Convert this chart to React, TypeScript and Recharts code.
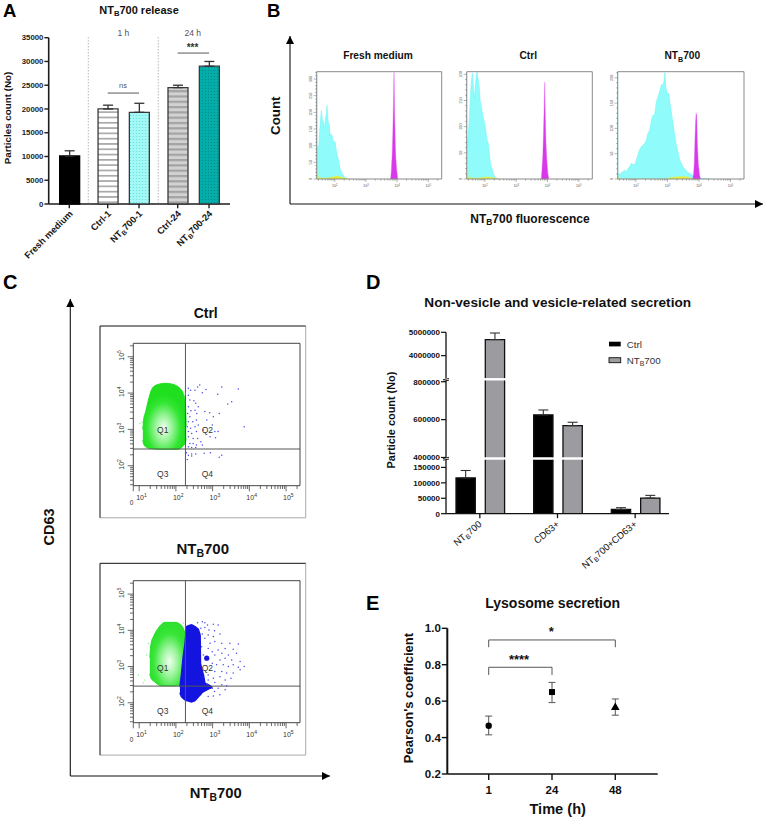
import {
  Area, Bar, BarChart, Cell, ComposedChart, ErrorBar, Line, LineChart,
  ReferenceLine, Scatter, Symbols, XAxis, YAxis,
} from "recharts";

const PAGE_W = 764;
const PAGE_H = 819;
const FONT = "'Liberation Sans', Arial, sans-serif";

// Panel A
const releaseCategories = ["Fresh medium", "Ctrl-1", "NTB700-1", "Ctrl-24", "NTB700-24"];
const releaseValues = [10100, 20000, 19300, 24500, 29000];
const releaseErrors = [1100, 800, 1900, 500, 1000];
const releaseFills = ["#000000", "url(#stripeLight)", "url(#dotCyan)", "url(#stripeGrey)", "url(#dotTeal)"];
const releaseTicks = [0, 5000, 10000, 15000, 20000, 25000, 30000, 35000];

// Panel B, [log10 fluorescence, count]
const freshCyan = [[1.42, 330], [1.43, 95], [1.49, 100], [1.52, 150], [1.55, 185], [1.57, 205], [1.6, 180], [1.64, 170], [1.67, 150], [1.7, 180], [1.73, 195], [1.75, 220], [1.79, 170], [1.82, 165], [1.85, 130], [1.88, 135], [1.91, 130], [1.95, 115], [1.98, 110], [2.01, 112], [2.04, 90], [2.07, 75], [2.11, 60], [2.14, 45], [2.17, 30], [2.2, 25], [2.24, 15], [2.27, 12], [2.3, 8], [2.34, 4], [2.39, 2], [2.43, 0]];
const freshMagenta = [[3.79, 0], [3.81, 20], [3.84, 70], [3.86, 130], [3.88, 220], [3.9, 320], [3.92, 200], [3.94, 110], [3.96, 60], [3.99, 25], [4.02, 0]];
const freshYellow = [[1.42, 75], [1.44, 60], [1.46, 5], [1.6, 2], [1.8, 3], [1.95, 6], [2.05, 9], [2.15, 7], [2.3, 3], [2.45, 0]];
const ctrlCyan = [[1.42, 210], [1.43, 60], [1.47, 84], [1.51, 122], [1.54, 160], [1.57, 186], [1.6, 202], [1.64, 173], [1.67, 154], [1.7, 179], [1.73, 198], [1.75, 204], [1.79, 189], [1.82, 176], [1.85, 148], [1.88, 141], [1.91, 129], [1.95, 116], [1.98, 110], [2.01, 100], [2.04, 87], [2.07, 75], [2.11, 68], [2.14, 49], [2.17, 33], [2.2, 24], [2.24, 17], [2.27, 11], [2.3, 6], [2.34, 3], [2.39, 1], [2.43, 0]];
const ctrlMagenta = [[3.8, 0], [3.82, 15], [3.85, 45], [3.87, 85], [3.89, 130], [3.91, 185], [3.93, 120], [3.95, 70], [3.98, 35], [4.01, 12], [4.04, 0]];
const ctrlYellow = [[1.42, 52], [1.44, 40], [1.46, 3], [1.7, 1], [1.95, 3], [2.1, 4], [2.3, 2], [2.45, 0]];
const ntCyan = [[1.42, 215], [1.43, 6], [1.44, 8], [1.47, 11], [1.5, 9], [1.54, 13], [1.59, 14], [1.64, 18], [1.7, 14], [1.75, 21], [1.8, 24], [1.85, 31], [1.9, 29], [1.96, 28], [2.01, 37], [2.06, 47], [2.11, 57], [2.17, 64], [2.22, 67], [2.28, 70], [2.33, 77], [2.38, 90], [2.44, 97], [2.49, 116], [2.54, 126], [2.59, 126], [2.65, 153], [2.7, 162], [2.75, 172], [2.81, 186], [2.86, 186], [2.89, 192], [2.92, 210], [2.95, 179], [3.0, 166], [3.04, 170], [3.08, 149], [3.12, 133], [3.18, 107], [3.23, 87], [3.28, 67], [3.34, 51], [3.39, 37], [3.44, 31], [3.49, 24], [3.55, 20], [3.6, 16], [3.65, 13], [3.71, 11], [3.76, 9], [3.81, 7], [3.86, 5], [3.92, 3], [3.97, 2], [4.08, 1], [4.18, 1], [4.39, 0]];
const ntMagenta = [[3.8, 0], [3.83, 10], [3.85, 30], [3.87, 70], [3.89, 110], [3.91, 130], [3.93, 125], [3.95, 70], [3.98, 30], [4.02, 8], [4.05, 0]];
const ntYellow = [[1.42, 5], [1.44, 3], [1.46, 0], [3.0, 0], [3.1, 3], [3.3, 4], [3.5, 5], [3.7, 3], [3.81, 0]];
const histogramDomain = [1.42, 5.43];

// Panel C, blobs are [log x, log y low, log y high]
const ctrlGreen = [[1.1, 2.7, 3.0], [1.12, 2.6, 3.25], [1.18, 2.52, 3.5], [1.27, 2.48, 3.88], [1.34, 2.47, 4.1], [1.43, 2.46, 4.2], [1.56, 2.45, 4.25], [1.7, 2.45, 4.27], [1.88, 2.45, 4.25], [2.02, 2.45, 4.2], [2.11, 2.47, 4.13], [2.2, 2.55, 3.99], [2.25, 2.62, 3.8], [2.28, 2.75, 3.1]];
const ctrlGreenStray = [[1.17, 3.49], [1.02, 3.16], [1.08, 3.2], [2.25, 3.99]];
const ctrlBlue = [[2.34, 4.13], [2.4, 4.08], [2.52, 4.08], [2.59, 4.17], [2.65, 4.22], [2.72, 4.01], [2.82, 4.1], [3.25, 4.17], [3.7, 4.11], [3.14, 3.97], [3.52, 3.76], [3.41, 3.7], [3.86, 3.07], [2.34, 3.94], [2.38, 3.81], [2.49, 3.79], [2.54, 3.72], [2.61, 3.62], [2.34, 3.62], [2.41, 3.51], [2.52, 3.53], [2.57, 3.44], [2.79, 3.49], [2.92, 3.46], [3.02, 3.35], [3.18, 3.44], [2.32, 3.44], [2.38, 3.35], [2.46, 3.21], [2.56, 3.26], [2.84, 3.26], [2.99, 3.12], [2.34, 3.21], [2.31, 3.07], [2.4, 3.03], [2.52, 3.07], [2.61, 3.12], [2.34, 2.94], [2.43, 2.89], [2.56, 2.94], [2.75, 2.98], [3.06, 2.94], [3.15, 2.94], [2.34, 2.8], [2.47, 2.75], [2.59, 2.75], [2.68, 2.66], [2.38, 2.61], [2.47, 2.61], [2.56, 2.57], [2.72, 2.57], [2.93, 2.8], [3.08, 2.77], [2.34, 2.52], [2.43, 2.5], [2.54, 2.5], [2.29, 2.36], [2.34, 2.29], [2.43, 2.32], [2.54, 2.32], [2.77, 2.34], [2.94, 2.36], [3.25, 2.29], [3.18, 2.23], [2.31, 2.17], [2.43, 2.27]];
const ntGreen = [[1.29, 2.8, 3.25], [1.32, 2.68, 3.6], [1.41, 2.59, 3.87], [1.52, 2.5, 4.06], [1.61, 2.47, 4.17], [1.7, 2.47, 4.22], [1.97, 2.47, 4.22], [2.11, 2.5, 4.17], [2.2, 2.63, 4.06], [2.27, 2.91, 3.83]];
const ntGreenStray = [[0.98, 2.77], [1.15, 2.63], [1.25, 3.64], [1.34, 3.73], [1.2, 3.32], [1.11, 2.55], [2.2, 4.2]];
const ntBlueBlob = [[2.11, 2.28, 2.43], [2.15, 2.17, 2.77], [2.2, 2.12, 3.28], [2.25, 2.08, 3.64], [2.29, 2.06, 4.1], [2.34, 2.05, 4.13], [2.43, 2.02, 4.15], [2.52, 2.06, 4.1], [2.61, 2.16, 4.03], [2.66, 2.22, 3.87], [2.67, 2.22, 3.09], [2.7, 2.27, 2.95], [2.75, 2.31, 2.77], [2.79, 2.33, 2.54], [2.88, 2.38, 2.5], [2.99, 2.43, 2.43]];
const ntBlueClump = [[2.84, 3.23]];
const ntBlue = [[2.59, 4.21], [2.72, 4.24], [2.79, 4.21], [2.86, 4.15], [3.02, 4.17], [3.15, 4.15], [2.68, 4.06], [2.79, 4.08], [2.9, 4.01], [3.05, 3.99], [2.72, 3.9], [2.88, 3.87], [3.02, 3.83], [3.2, 3.9], [2.79, 3.78], [2.93, 3.64], [3.06, 3.69], [3.25, 3.64], [3.47, 3.64], [3.7, 3.62], [2.7, 3.55], [2.88, 3.5], [2.99, 3.41], [3.15, 3.46], [3.34, 3.5], [3.56, 3.48], [2.75, 3.32], [3.06, 3.32], [3.25, 3.37], [3.43, 3.32], [3.65, 3.37], [3.2, 3.18], [3.34, 3.23], [3.52, 3.18], [3.75, 3.14], [2.99, 3.09], [3.11, 3.05], [3.29, 3.05], [3.43, 3.0], [3.56, 3.05], [3.7, 2.98], [3.86, 3.0], [3.06, 2.86], [3.25, 2.86], [3.38, 2.82], [3.56, 2.82], [3.75, 2.91], [2.88, 2.77], [3.02, 2.68], [3.2, 2.72], [3.34, 2.63], [3.5, 2.68], [2.88, 2.63], [3.06, 2.56], [3.25, 2.5], [3.38, 2.47], [2.84, 2.52], [2.99, 2.4], [3.15, 2.4], [3.34, 2.36], [3.05, 2.31], [3.2, 2.22], [2.88, 2.17], [3.02, 2.19]];
const gateX = 2.26;
const gateY = 2.46;
const flowXDomain = [0.84, 5.38];
const flowYDomain = [1.45, 5.37];

// Panel D
const secretionCategories = ["NTB700", "CD63+", "NTB700+CD63+"];
const ctrlCounts = [116000, 625000, 14000];
const ctrlCountErrors = [24000, 26000, 5500];
const ntCounts = [4690000, 568000, 50700];
const ntCountErrors = [280000, 18000, 8700];
const lowTicks = [0, 50000, 100000, 150000];
const midTicks = [400000, 600000, 800000];
const highTicks = [4000000, 5000000];

// Panel E
const timeCategories = ["1", "24", "48"];
const pearsonMeans = [0.465, 0.65, 0.565];
const pearsonLow = [0.415, 0.592, 0.523];
const pearsonHigh = [0.518, 0.703, 0.612];
const timeMarkers = ["circle", "square", "triangle"];
const pearsonTicks = [0.2, 0.4, 0.6, 0.8, 1.0];

// every chart covers the page and its axes take 1px, so the plot box is given in page pixels
const plot = (left: number, top: number, right: number, bottom: number) => ({
  left: left - 1, top, right: PAGE_W - right, bottom: PAGE_H - bottom - 1,
});
const silentY = { width: 1, axisLine: false, tick: false, tickLine: false };
const silentX = { height: 1, axisLine: false, tick: false, tickLine: false };

const Sheet = ({ children }: any) => (
  <div style={{ position: "absolute", left: 0, top: 0, width: PAGE_W, height: PAGE_H }}>{children}</div>
);

// writes the B of NTB as a subscript
function Sub({ text, size }: { text: string; size: number }) {
  const at = text.indexOf("NTB");
  if (at < 0) return <>{text}</>;
  const shift = size * 0.22;
  return (
    <>
      <tspan>{text.slice(0, at + 2)}</tspan>
      <tspan dy={shift} fontSize={size * 0.7}>B</tspan>
      <tspan dy={-shift}>{text.slice(at + 3)}</tspan>
    </>
  );
}

const Txt = ({ x, y, size, bold, color = "#111", anchor = "middle", rotate, text }: any) => (
  <text
    x={x} y={y} fontSize={size} fontWeight={bold ? 700 : 400} fill={color} textAnchor={anchor}
    fontFamily={FONT} transform={rotate ? `rotate(${rotate} ${x} ${y})` : undefined}
  >
    <Sub text={text} size={size} />
  </text>
);

// the axis overwrites a prop called angle on its tick element, hence tilt
const AngledTick = ({ x, y, payload, labelSize, bold, shiftX, shiftY, tilt }: any) => (
  <text
    x={x + shiftX} y={y + shiftY} fontSize={labelSize} fontWeight={bold ? 700 : 400} fill="#151515" textAnchor="end"
    fontFamily={FONT} transform={`rotate(${tilt} ${x + shiftX} ${y + shiftY})`}
  >
    <Sub text={payload.value} size={labelSize} />
  </text>
);

// Panel A: three groups, same y scale, so the separators get their extra room
function ReleaseBase() {
  return (
    <Sheet>
      <BarChart width={PAGE_W} height={PAGE_H} margin={plot(48.7, 37.7, 230, 204)} data={releaseCategories.map((name) => ({ name, value: 0 }))}>
        <XAxis dataKey="name" height={1} tick={false} tickLine={false} axisLine={{ stroke: "#1c1c1c", strokeWidth: 1.6 }} />
        <YAxis
          width={1} domain={[0, 35000]} ticks={releaseTicks} interval={0} tickSize={4.3} tickMargin={1}
          tick={{ fontSize: 7.8, fontWeight: 700, fill: "#1c1c1c" }}
          tickLine={{ stroke: "#1c1c1c", strokeWidth: 1.4 }} axisLine={{ stroke: "#1c1c1c", strokeWidth: 1.6 }}
        />
        <Bar dataKey="value" fill="none" isAnimationActive={false} />
      </BarChart>
    </Sheet>
  );
}

function ReleaseGroup({ from, to, left, right, significance }: any) {
  const data = releaseCategories.slice(from, to).map((name, i) => ({
    name,
    value: releaseValues[from + i],
    error: [0, releaseErrors[from + i]],
  }));
  return (
    <Sheet>
      <BarChart width={PAGE_W} height={PAGE_H} margin={plot(left, 37.7, right, 204)} data={data}>
        <XAxis
          dataKey="name" height={1} interval={0} tickSize={4.3} axisLine={false}
          tickLine={{ stroke: "#1c1c1c", strokeWidth: 1.4 }}
          tick={<AngledTick labelSize={9.3} bold shiftX={4} shiftY={4} tilt={-45} />}
        />
        <YAxis {...silentY} domain={[0, 35000]} />
        <Bar dataKey="value" barSize={20} stroke="#333" strokeWidth={1.3} isAnimationActive={false}>
          {data.map((_, i) => <Cell key={i} fill={releaseFills[from + i]} stroke={from === 0 ? "#000" : "#3a3a3a"} />)}
          <ErrorBar dataKey="error" width={5} stroke="#333" strokeWidth={1.3} direction="y" />
        </Bar>
        {significance && (
          <ReferenceLine
            segment={[{ x: data[0].name, y: significance }, { x: data[1].name, y: significance }]}
            stroke="#444" strokeWidth={0.9}
          />
        )}
      </BarChart>
    </Sheet>
  );
}

// Panel B
const HistTickX = ({ x, y, payload }: any) => {
  const major = Number.isInteger(payload.value);
  return (
    <g>
      <line x1={x} x2={x} y1={y} y2={y + (major ? 3 : 1.6)} stroke="#666" strokeWidth={0.5} />
      {major && (
        <text x={x} y={y + 8} fontSize={3.6} fill="#555" textAnchor="middle" fontFamily={FONT}>
          10<tspan dy={-1} fontSize={2.6}>{payload.value}</tspan>
        </text>
      )}
    </g>
  );
};

const HistTickY = ({ x, y, payload }: any) => {
  const major = payload.value % 50 === 0;
  return (
    <g>
      <line x1={x} x2={x - (major ? 3 : 1.6)} y1={y} y2={y} stroke="#666" strokeWidth={0.5} />
      {major && (
        <text x={x - 4.5} y={y} fontSize={3.8} fill="#555" textAnchor="middle" fontFamily={FONT} transform={`rotate(-90 ${x - 4.5} ${y})`}>
          {payload.value}
        </text>
      )}
    </g>
  );
};

const decadeMinors = (first: number, last: number) => {
  const out: number[] = [];
  for (let d = first; d <= last; d++) for (const m of [1, 2, 3, 4, 5, 6, 7, 8, 9]) out.push(Number((d + Math.log10(m)).toFixed(3)));
  return out;
};

const toPoints = (pairs: number[][]) => pairs.map(([x, y]) => ({ x, y }));
const toRange = (rows: number[][]) => rows.map(([x, low, high]) => ({ x, range: [low, high] }));

function Histogram({ left, right, maxCount, cyan, magenta, yellow }: any) {
  const yTicks: number[] = [];
  for (let t = 0; t <= maxCount; t += 10) yTicks.push(t);
  const xTicks = decadeMinors(1, 5).filter((t) => t >= histogramDomain[0] && t <= histogramDomain[1]);
  return (
    <Sheet>
      <ComposedChart width={PAGE_W} height={PAGE_H} margin={plot(left, 71.7, right, 179)}>
        <XAxis
          type="number" dataKey="x" height={1} domain={histogramDomain} allowDataOverflow ticks={xTicks} interval={0}
          tickSize={0} tickMargin={0} tickLine={false} tick={<HistTickX />} axisLine={{ stroke: "#8a8a8a" }}
        />
        <YAxis
          width={1} dataKey="y" domain={[0, maxCount]} allowDataOverflow ticks={yTicks} interval={0}
          tickSize={0} tickMargin={0} tickLine={false} tick={<HistTickY />} axisLine={{ stroke: "#8a8a8a" }}
        />
        <Area data={toPoints(cyan)} dataKey="y" type="linear" fill="#8ffbfb" fillOpacity={1} stroke="#6ef7f7" strokeWidth={0.6} isAnimationActive={false} />
        <Area data={toPoints(yellow)} dataKey="y" type="linear" fill="#e6ee3a" fillOpacity={1} stroke="#e6ee3a" strokeWidth={0.5} isAnimationActive={false} />
        <Area data={toPoints(magenta)} dataKey="y" type="linear" fill="#d838ea" fillOpacity={1} stroke="#e060f0" strokeWidth={0.4} isAnimationActive={false} />
        <ReferenceLine y={maxCount} stroke="#8a8a8a" />
        <ReferenceLine x={histogramDomain[1]} stroke="#8a8a8a" />
      </ComposedChart>
    </Sheet>
  );
}

// Panel C
const FlowTickX = ({ x, y, payload }: any) => {
  const v = payload.value;
  const major = Number.isInteger(v);
  const zero = v === flowXDomain[0];
  return (
    <g>
      <line x1={x} x2={x} y1={y} y2={y + (major || zero ? 5.6 : 3.3)} stroke="#444" strokeWidth={0.8} />
      {major && (
        <text x={x - 3} y={y + 14} fontSize={7} fill="#333" fontFamily={FONT}>
          10<tspan dy={-3} fontSize={5}>{v}</tspan>
        </text>
      )}
      {zero && <text x={x - 3.5} y={y + 19} fontSize={6.5} fill="#333" fontFamily={FONT}>0</text>}
    </g>
  );
};

const FlowTickY = ({ x, y, payload }: any) => {
  const v = payload.value;
  const major = Number.isInteger(v);
  return (
    <g>
      <line x1={x} x2={x - (major ? 5.6 : 3.3)} y1={y} y2={y} stroke="#444" strokeWidth={0.8} />
      {major && (
        <text x={x - 9} y={y + 4} fontSize={7} fill="#333" fontFamily={FONT} transform={`rotate(-90 ${x - 9} ${y + 4})`}>
          10<tspan dy={-3} fontSize={5}>{v}</tspan>
        </text>
      )}
    </g>
  );
};

const BlueDot = ({ cx, cy }: any) => <circle cx={cx} cy={cy} r={0.75} fill="#4a4af0" />;
const GreenDot = ({ cx, cy }: any) => <circle cx={cx} cy={cy} r={0.55} fill="#58e858" />;
const ClumpDot = ({ cx, cy }: any) => <circle cx={cx} cy={cy} r={2.6} fill="#1414e0" />;

function FlowPlot({ top, bottom, gradient, green, stray, blob, clump, dots }: any) {
  const xTicks = [flowXDomain[0], ...decadeMinors(1, 5).filter((t) => t <= flowXDomain[1])];
  const yTicks = decadeMinors(1, 5).filter((t) => t >= flowYDomain[0] && t <= flowYDomain[1]);
  return (
    <Sheet>
      <ComposedChart width={PAGE_W} height={PAGE_H} margin={plot(133.3, top, 300, bottom)}>
        <XAxis
          type="number" dataKey="x" height={1} domain={flowXDomain} ticks={xTicks} interval={0}
          tickSize={0} tickMargin={0} tickLine={false} tick={<FlowTickX />} axisLine={{ stroke: "#444" }}
        />
        <YAxis
          width={1} dataKey="y" domain={flowYDomain} ticks={yTicks} interval={0}
          tickSize={0} tickMargin={0} tickLine={false} tick={<FlowTickY />} axisLine={{ stroke: "#444" }}
        />
        <Area data={toRange(green)} dataKey="range" type="monotone" fill={gradient} fillOpacity={1} stroke="#1fdf1f" strokeWidth={1} isAnimationActive={false} />
        {blob && <Area data={toRange(blob)} dataKey="range" type="linear" fill="#1414e0" fillOpacity={1} stroke="#1414e0" strokeWidth={1.5} isAnimationActive={false} />}
        <Scatter data={toPoints(stray)} shape={<GreenDot />} isAnimationActive={false} />
        <Scatter data={toPoints(dots)} shape={<BlueDot />} isAnimationActive={false} />
        {clump && <Scatter data={toPoints(clump)} shape={<ClumpDot />} isAnimationActive={false} />}
        <ReferenceLine x={gateX} stroke="#555" strokeWidth={1} />
        <ReferenceLine y={gateY} stroke="#555" strokeWidth={1} />
        <ReferenceLine x={flowXDomain[1]} stroke="#444" />
        <ReferenceLine y={flowYDomain[1]} stroke="#444" />
      </ComposedChart>
    </Sheet>
  );
}

// Panel D: broken axis, one chart per segment with the bars clipped to it
const OpenBar = ({ x, y, width, height, fill }: any) => {
  if (height == null || !Number.isFinite(height)) return null;
  return (
    <g>
      <rect x={x} y={y} width={width} height={height} fill={fill} />
      <path d={`M${x} ${y + height}V${y}H${x + width}V${y + height}`} fill="none" stroke="#111" strokeWidth={1.3} />
    </g>
  );
};

function SecretionSegment({ top, bottom, domain, ticks, showCategories }: any) {
  const keep = (v: number) => v >= domain[0];
  const inside = (v: number) => v >= domain[0] && v <= domain[1];
  const data = secretionCategories.map((name, i) => ({
    name,
    ctrl: keep(ctrlCounts[i]) ? ctrlCounts[i] : null,
    ctrlError: inside(ctrlCounts[i]) ? [0, ctrlCountErrors[i]] : null,
    nt: keep(ntCounts[i]) ? ntCounts[i] : null,
    ntError: inside(ntCounts[i]) ? [0, ntCountErrors[i]] : null,
  }));
  const xAxisLook = showCategories
    ? {
        height: 1, tickSize: 4.5, axisLine: { stroke: "#111", strokeWidth: 1.3 },
        tickLine: { stroke: "#111", strokeWidth: 1.3 },
        tick: <AngledTick labelSize={9.5} shiftX={2.5} shiftY={5} tilt={-40} />,
      }
    : silentX;
  return (
    <Sheet>
      <BarChart width={PAGE_W} height={PAGE_H} margin={plot(446, top, 669, bottom)} data={data} barSize={19.3} barGap={10}>
        <XAxis dataKey="name" interval={0} padding={{ left: -5, right: -5 }} {...xAxisLook} />
        <YAxis
          width={1} domain={domain} allowDataOverflow ticks={ticks} interval={0} tickSize={5} tickMargin={1}
          tick={{ fontSize: 8, fontWeight: 700, fill: "#111" }}
          tickLine={{ stroke: "#111", strokeWidth: 1.2 }} axisLine={{ stroke: "#111", strokeWidth: 1.3 }}
        />
        <Bar dataKey="ctrl" fill="#000" shape={<OpenBar />} isAnimationActive={false}>
          <ErrorBar dataKey="ctrlError" width={5} stroke="#333" strokeWidth={1.1} direction="y" />
        </Bar>
        <Bar dataKey="nt" fill="#9b9ba0" shape={<OpenBar />} isAnimationActive={false}>
          <ErrorBar dataKey="ntError" width={5} stroke="#333" strokeWidth={1.1} direction="y" />
        </Bar>
      </BarChart>
    </Sheet>
  );
}

// Panel E
function PearsonChart() {
  const data = timeCategories.map((name, i) => ({
    name,
    mean: pearsonMeans[i],
    spread: [pearsonMeans[i] - pearsonLow[i], pearsonHigh[i] - pearsonMeans[i]],
  }));
  const dot = (p: any) => (
    <Symbols key={p.index} cx={p.cx} cy={p.cy} type={timeMarkers[p.index] as any} size={p.index === 1 ? 36 : 32} fill="#000" />
  );
  const bracketLine = { stroke: "#444", strokeWidth: 0.9 };
  return (
    <Sheet>
      <LineChart width={PAGE_W} height={PAGE_H} margin={plot(447.3, 628.3, 657.7, 774)} data={data}>
        <XAxis
          dataKey="name" height={1} interval={0} padding={{ left: 41.4, right: 42.4 }} tickSize={6} tickMargin={6}
          tick={{ fontSize: 11.5, fontWeight: 700, fill: "#111" }}
          tickLine={{ stroke: "#111", strokeWidth: 1.4 }} axisLine={{ stroke: "#111", strokeWidth: 1.6 }}
        />
        <YAxis
          width={1} domain={[0.2, 1]} ticks={pearsonTicks} interval={0} tickSize={5.5} tickMargin={1}
          tickFormatter={(v: number) => v.toFixed(1)}
          tick={{ fontSize: 11.5, fontWeight: 700, fill: "#111" }}
          tickLine={{ stroke: "#111", strokeWidth: 1.4 }} axisLine={{ stroke: "#111", strokeWidth: 2 }}
        />
        <Line dataKey="mean" stroke="none" dot={dot} activeDot={false} isAnimationActive={false}>
          <ErrorBar dataKey="spread" width={3.5} stroke="#555" strokeWidth={1} direction="y" />
        </Line>
        <ReferenceLine segment={[{ x: "1", y: 0.896 }, { x: "1", y: 0.936 }]} {...bracketLine} />
        <ReferenceLine segment={[{ x: "1", y: 0.936 }, { x: "48", y: 0.936 }]} {...bracketLine} />
        <ReferenceLine segment={[{ x: "48", y: 0.936 }, { x: "48", y: 0.896 }]} {...bracketLine} />
        <ReferenceLine segment={[{ x: "1", y: 0.744 }, { x: "1", y: 0.786 }]} {...bracketLine} />
        <ReferenceLine segment={[{ x: "1", y: 0.786 }, { x: "24", y: 0.786 }]} {...bracketLine} />
        <ReferenceLine segment={[{ x: "24", y: 0.786 }, { x: "24", y: 0.744 }]} {...bracketLine} />
      </LineChart>
    </Sheet>
  );
}

const Arrow = ({ x1, y1, x2, y2 }: any) => {
  const up = x1 === x2;
  const head = up
    ? `${x2},${y2} ${x2 - 4},${y2 + 8} ${x2 + 4},${y2 + 8}`
    : `${x2},${y2} ${x2 - 8},${y2 - 4} ${x2 - 8},${y2 + 4}`;
  return (
    <g>
      <line x1={x1} y1={y1} x2={x2} y2={y2} stroke="#111" strokeWidth={1.1} />
      <polygon points={head} fill="#000" />
    </g>
  );
};

function Annotations() {
  return (
    <Sheet>
      <svg width={PAGE_W} height={PAGE_H} style={{ display: "block" }}>
        {/* panel letters */}
        <Txt x={3} y={16.8} size={18.5} bold anchor="start" color="#000" text="A" />
        <Txt x={267} y={16.8} size={18.5} bold anchor="start" color="#000" text="B" />
        <Txt x={3} y={289} size={20} bold anchor="start" color="#000" text="C" />
        <Txt x={366} y={289} size={20} bold anchor="start" color="#000" text="D" />
        <Txt x={366} y={610} size={20} bold anchor="start" color="#000" text="E" />

        {/* A */}
        <Txt x={139} y={14} size={11} bold text="NTB700 release" />
        <Txt x={10.5} y={118} size={9.8} bold rotate={-90} text="Particles count (No)" />
        <Txt x={123.3} y={35.7} size={8.5} color="#555" text="1 h" />
        <Txt x={192.7} y={35.7} size={8.5} color="#555" text="24 h" />
        <Txt x={123} y={88} size={7.5} color="#555" text="ns" />
        <Txt x={192.5} y={51} size={10} bold color="#333" text="***" />
        <line x1={88.3} x2={88.3} y1={37} y2={204} stroke="#999" strokeWidth={0.7} strokeDasharray="1.5 1.5" />
        <line x1={158.3} x2={158.3} y1={37} y2={204} stroke="#999" strokeWidth={0.7} strokeDasharray="1.5 1.5" />

        {/* B */}
        <Arrow x1={290} y1={204} x2={290} y2={36} />
        <Arrow x1={290} y1={204} x2={763} y2={204} />
        <Txt x={280} y={115.7} size={13.3} bold rotate={-90} text="Count" />
        <Txt x={378} y={59.3} size={10.2} bold text="Fresh medium" />
        <Txt x={528.3} y={59.3} size={10.2} bold text="Ctrl" />
        <Txt x={682.3} y={59.3} size={10.2} bold text="NTB700" />
        <Txt x={530} y={222.7} size={12} bold text="NTB700 fluorescence" />

        {/* C */}
        <Arrow x1={70.3} y1={776} x2={70.3} y2={299} />
        <Arrow x1={70.3} y1={776} x2={330} y2={776} />
        <Txt x={54} y={527} size={14.5} bold rotate={-90} text="CD63" />
        <Txt x={205.7} y={317.7} size={14} bold text="Ctrl" />
        <Txt x={202.7} y={554} size={15} bold text="NTB700" />
        <Txt x={215.7} y={798} size={14.8} bold text="NTB700" />
        {[326, 563.3].map((t) => (
          <g key={t}>
            <path d={`M305.7 ${t}V${t + 191.8}H100`} fill="none" stroke="#aaa" strokeWidth={1} />
            <path d={`M100 ${t + 191.8}V${t}H305.7`} fill="none" stroke="#111" strokeWidth={1} />
          </g>
        ))}
        {[
          ["Q1", 162.7, 433.3], ["Q2", 207.3, 433.3], ["Q3", 162.7, 477], ["Q4", 207.3, 477],
          ["Q1", 162.7, 670.7], ["Q2", 207.3, 670.7], ["Q3", 162.7, 714], ["Q4", 207.3, 714],
        ].map(([label, x, y], i) => (
          <Txt key={i} x={x} y={y} size={8.5} color="#333" text={label} />
        ))}

        {/* D */}
        <Txt x={557.7} y={306.7} size={13.6} bold text="Non-vesicle and vesicle-related secretion" />
        <Txt x={395} y={420} size={10.9} bold rotate={-90} text="Particle count (No)" />
        <rect x={609} y={341.7} width={11.7} height={4.7} fill="#000" />
        <rect x={609} y={357.7} width={11.7} height={5} fill="#9b9ba0" stroke="#111" strokeWidth={0.9} />
        <Txt x={626.7} y={347.5} size={9.8} color="#333" anchor="start" text="Ctrl" />
        <Txt x={626.7} y={363.5} size={9.8} color="#333" anchor="start" text="NTB700" />
        {[379.4, 458.2].map((y) => (
          <g key={y} stroke="#111" strokeWidth={0.9}>
            <line x1={443} x2={449} y1={y + 0.3} y2={y - 0.9} />
            <line x1={443} x2={449} y1={y + 2} y2={y + 0.8} />
          </g>
        ))}

        {/* E */}
        <Txt x={552.7} y={607.7} size={14} bold text="Lysosome secretion" />
        <Txt x={413} y={698} size={13} bold rotate={-90} text="Pearson's coefficient" />
        <Txt x={557.7} y={814} size={14.6} bold text="Time (h)" />
        <Txt x={519} y={664} size={13} bold text="****" />
        <Txt x={551.3} y={636} size={13} bold text="*" />
      </svg>
    </Sheet>
  );
}

const Patterns = () => (
  <svg width={0} height={0} style={{ position: "absolute" }}>
    <defs>
      <pattern id="stripeLight" width={4} height={5.3} patternUnits="userSpaceOnUse">
        <rect width={4} height={5.3} fill="#ffffff" />
        <rect width={4} height={1.7} fill="#a8a8a8" />
      </pattern>
      <pattern id="stripeGrey" width={4} height={5.3} patternUnits="userSpaceOnUse">
        <rect width={4} height={5.3} fill="#d2d2d2" />
        <rect width={4} height={2.2} fill="#a3a3a3" />
      </pattern>
      <pattern id="dotCyan" width={3} height={3} patternUnits="userSpaceOnUse">
        <rect width={3} height={3} fill="#a4f8f6" />
        <circle cx={1.5} cy={1.5} r={0.6} fill="#62dcd8" />
      </pattern>
      <pattern id="dotTeal" width={3} height={3} patternUnits="userSpaceOnUse">
        <rect width={3} height={3} fill="#03adaa" />
        <circle cx={1.5} cy={1.5} r={0.6} fill="#018582" />
      </pattern>
      <radialGradient id="blobCtrl" cx="0.48" cy="0.68" r="0.52">
        <stop offset="0%" stopColor="#f4fff4" />
        <stop offset="35%" stopColor="#9df59d" />
        <stop offset="75%" stopColor="#32e632" />
        <stop offset="100%" stopColor="#1fdf1f" />
      </radialGradient>
      <radialGradient id="blobNt" cx="0.55" cy="0.62" r="0.55">
        <stop offset="0%" stopColor="#f0fff0" />
        <stop offset="40%" stopColor="#9df59d" />
        <stop offset="80%" stopColor="#3ae63a" />
        <stop offset="100%" stopColor="#2fe22f" />
      </radialGradient>
    </defs>
  </svg>
);

export default function App() {
  return (
    <div style={{ position: "absolute", left: 0, top: 0, width: PAGE_W, height: PAGE_H, background: "#fff", fontFamily: FONT, overflow: "hidden" }}>
      <Patterns />
      <ReleaseBase />
      <ReleaseGroup from={0} to={1} left={53.65} right={84.95} />
      <ReleaseGroup from={1} to={3} left={92.05} right={154.65} significance={23350} />
      <ReleaseGroup from={3} to={5} left={162} right={224.7} significance={31770} />

      <Histogram left={316.7} right={441.7} maxCount={322} cyan={freshCyan} magenta={freshMagenta} yellow={freshYellow} />
      <Histogram left={466.7} right={592.3} maxCount={205} cyan={ctrlCyan} magenta={ctrlMagenta} yellow={ctrlYellow} />
      <Histogram left={617.7} right={744} maxCount={212} cyan={ntCyan} magenta={ntMagenta} yellow={ntYellow} />

      <FlowPlot top={343.3} bottom={485.7} gradient="url(#blobCtrl)" green={ctrlGreen} stray={ctrlGreenStray} dots={ctrlBlue} />
      <FlowPlot top={580.7} bottom={722.7} gradient="url(#blobNt)" green={ntGreen} stray={ntGreenStray} blob={ntBlueBlob} clump={ntBlueClump} dots={ntBlue} />

      <SecretionSegment top={459.7} bottom={513.7} domain={[0, 175000]} ticks={lowTicks} showCategories />
      <SecretionSegment top={380.6} bottom={457.5} domain={[400000, 806000]} ticks={midTicks} />
      <SecretionSegment top={332.3} bottom={378.3} domain={[3030000, 5000000]} ticks={highTicks} />

      <PearsonChart />
      <Annotations />
    </div>
  );
}
